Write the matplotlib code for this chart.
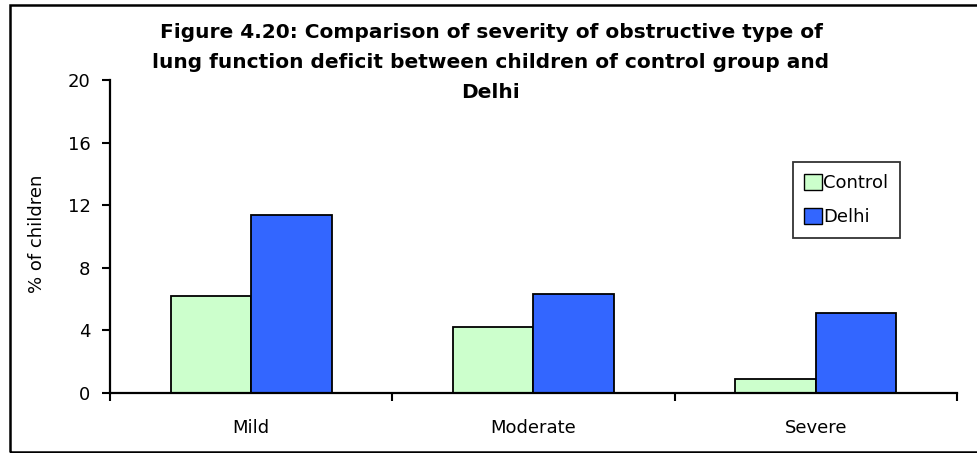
import numpy as np
import matplotlib
matplotlib.use("Agg")
import matplotlib.pyplot as plt
from matplotlib.patches import Rectangle

plt.rcParams['font.family'] = ['DejaVu Sans']

# Obstructive deficit severity, % of children
categories = ['Mild', 'Moderate', 'Severe']
control = [6.2, 4.2, 0.9]
delhi = [11.4, 6.3, 5.1]
yticks = [0, 4, 8, 12, 16, 20]

title = ('Figure 4.20: Comparison of severity of obstructive type of\n'
         'lung function deficit between children of control group and\n'
         'Delhi')

fig = plt.figure(figsize=(9.77, 4.53), dpi=100)
ax = fig.add_axes([0.1126, 0.1325, 0.8669, 0.691])

x = np.arange(len(categories)) + 0.5
w = 0.285
ax.bar(x - w / 2, control, w, color='#CCFFCC', edgecolor='black', linewidth=1.3, label='Control')
ax.bar(x + w / 2, delhi, w, color='#3366FF', edgecolor='black', linewidth=1.3, label='Delhi')

ax.set_xlim(0, len(categories))
ax.set_ylim(0, 20)
ax.set_yticks(yticks)
ax.set_yticklabels([str(t) for t in yticks], fontsize=13)

# boundary ticks without labels, category names on minor ticks
ax.set_xticks(np.arange(len(categories) + 1))
ax.set_xticklabels([])
ax.set_xticks(x, minor=True)
ax.set_xticklabels(categories, minor=True, fontsize=13)
ax.tick_params(axis='x', which='major', direction='out', length=6, width=1.5)
ax.tick_params(axis='x', which='minor', length=0, pad=19)
ax.tick_params(axis='y', direction='out', length=6, width=1.5, pad=8)

for s in ['top', 'right']:
    ax.spines[s].set_visible(False)
for s in ['left', 'bottom']:
    ax.spines[s].set_linewidth(1.6)

ax.set_ylabel('% of children', fontsize=13)
ax.yaxis.set_label_coords(-0.076, 0.51)

leg = ax.legend(loc='upper left', bbox_to_anchor=(0.806, 0.738), fontsize=13,
                frameon=True, fancybox=False, edgecolor='black',
                handlelength=1.0, handleheight=1.0, handletextpad=0.05,
                labelspacing=0.9, borderpad=0.65, borderaxespad=0)
leg.get_frame().set_linewidth(1.3)
for h in leg.legend_handles:
    h.set_linewidth(1.0)

fig.text(0.5025, 0.95, title, ha='center', va='top', fontsize=14.5,
         fontweight='bold', linespacing=1.74)

# outer chart border
fig.patches.append(Rectangle((10 / 977, 1 / 453), 2.0, 447 / 453,
                             transform=fig.transFigure, fill=False,
                             edgecolor='black', linewidth=1.8))

fig.savefig('out.png', dpi=100)
